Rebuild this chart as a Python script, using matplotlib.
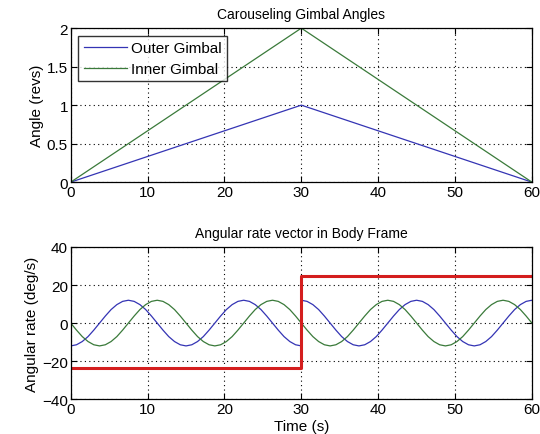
import matplotlib
matplotlib.use('Agg')
import matplotlib.pyplot as plt

# Top panel: gimbal angles (revs)
t_angle = [0, 30, 60]
outer_gimbal = [0, 1.0, 0]
inner_gimbal = [0, 2.0, 0]

# Bottom panel: angular rate components (deg/s), sampled every 0.75 s
t_rate = [0.75 * k for k in range(41)] + [30.0 + 0.75 * k for k in range(41)]
rate_blue = [-12, -11.4, -9.7, -7.1, -3.7, 0, 3.7, 7.1, 9.7, 11.4,
             12, 11.4, 9.7, 7.1, 3.7, 0, -3.7, -7.1, -9.7, -11.4,
             -12, -11.4, -9.7, -7.1, -3.7, 0, 3.7, 7.1, 9.7, 11.4,
             12, 11.4, 9.7, 7.1, 3.7, 0, -3.7, -7.1, -9.7, -11.4,
             -12,
             12, 11.4, 9.7, 7.1, 3.7, 0, -3.7, -7.1, -9.7, -11.4,
             -12, -11.4, -9.7, -7.1, -3.7, 0, 3.7, 7.1, 9.7, 11.4,
             12, 11.4, 9.7, 7.1, 3.7, 0, -3.7, -7.1, -9.7, -11.4,
             -12, -11.4, -9.7, -7.1, -3.7, 0, 3.7, 7.1, 9.7, 11.4,
             12]
rate_green = [0, -3.7, -7.1, -9.7, -11.4, -12, -11.4, -9.7, -7.1, -3.7,
              0, 3.7, 7.1, 9.7, 11.4, 12, 11.4, 9.7, 7.1, 3.7,
              0, -3.7, -7.1, -9.7, -11.4, -12, -11.4, -9.7, -7.1, -3.7,
              0, 3.7, 7.1, 9.7, 11.4, 12, 11.4, 9.7, 7.1, 3.7,
              0,
              0, -3.7, -7.1, -9.7, -11.4, -12, -11.4, -9.7, -7.1, -3.7,
              0, 3.7, 7.1, 9.7, 11.4, 12, 11.4, 9.7, 7.1, 3.7,
              0, -3.7, -7.1, -9.7, -11.4, -12, -11.4, -9.7, -7.1, -3.7,
              0, 3.7, 7.1, 9.7, 11.4, 12, 11.4, 9.7, 7.1, 3.7,
              0]
t_step = [0, 30, 30, 60]
rate_red = [-23.5, -23.5, 24.8, 24.8]

BLUE = '#3434b4'
GREEN = '#3a7a3a'
RED = '#d41e1e'

plt.rcParams['font.family'] = ['Liberation Sans', 'DejaVu Sans']

fig = plt.figure(figsize=(5.4, 4.35), dpi=100)
ax1 = fig.add_axes([0.131, 0.579, 0.854, 0.354])
ax2 = fig.add_axes([0.131, 0.080, 0.854, 0.350])

ax1.plot(t_angle, outer_gimbal, color=BLUE, lw=0.9, label='Outer Gimbal')
ax1.plot(t_angle, inner_gimbal, color=GREEN, lw=0.9, label='Inner Gimbal')
ax1.set_xlim(0, 60)
ax1.set_ylim(0, 2)
ax1.set_yticks([0, 0.5, 1, 1.5, 2])
ax1.set_yticklabels(['0', '0.5', '1', '1.5', '2'])
ax1.set_title('Carouseling Gimbal Angles', fontsize=10, pad=7)
ax1.set_ylabel('Angle (revs)', fontsize=11, labelpad=2)
leg = ax1.legend(loc='upper left', fontsize=11, frameon=True, fancybox=False,
                 edgecolor='black', handlelength=2.8, handletextpad=0.3,
                 borderpad=0.35, labelspacing=0.45, borderaxespad=0.5)
leg.get_frame().set_linewidth(1.0)

ax2.plot(t_rate, rate_blue, color=BLUE, lw=0.9)
ax2.plot(t_rate, rate_green, color=GREEN, lw=0.9)
ax2.plot(t_step, rate_red, color=RED, lw=2.2)
ax2.set_xlim(0, 60)
ax2.set_ylim(-40, 40)
ax2.set_yticks([-40, -20, 0, 20, 40])
ax2.set_title('Angular rate vector in Body Frame', fontsize=10, pad=7)
ax2.set_ylabel('Angular rate (deg/s)', fontsize=11, labelpad=2)
ax2.set_xlabel('Time (s)', fontsize=11, labelpad=2)

for ax in (ax1, ax2):
    ax.set_xticks([0, 10, 20, 30, 40, 50, 60])
    ax.grid(True, linestyle=(0, (1, 3)), color='black', linewidth=0.8)
    ax.tick_params(direction='in', top=True, right=True, labelsize=11,
                   length=4, pad=2)
    for s in ax.spines.values():
        s.set_linewidth(0.9)

fig.savefig('out.png', dpi=100)
